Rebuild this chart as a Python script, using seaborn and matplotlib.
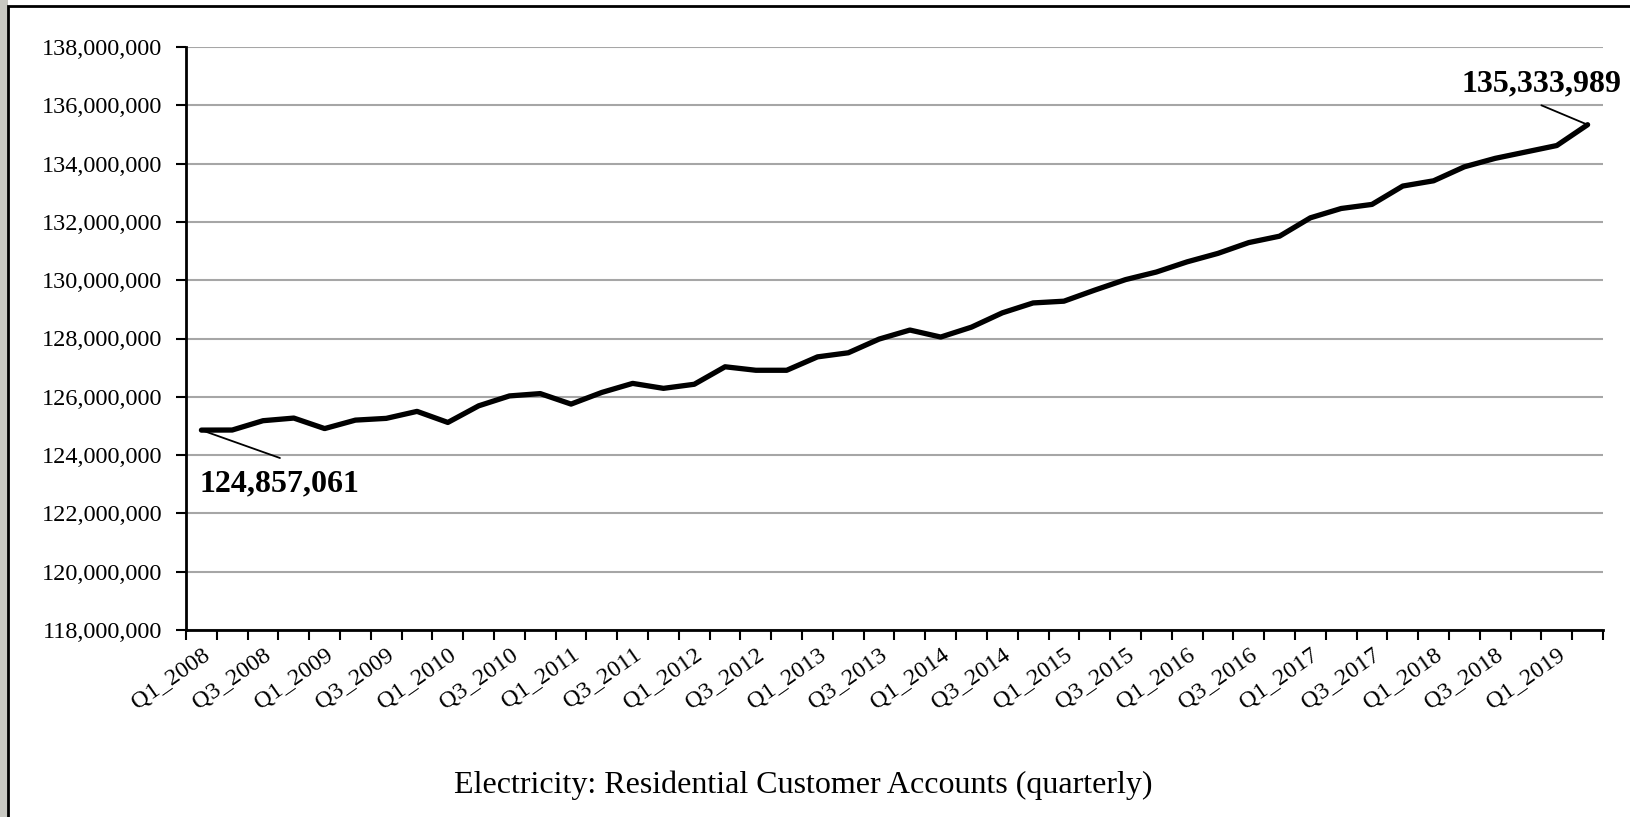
import matplotlib
matplotlib.use("Agg")
import matplotlib.pyplot as plt
import matplotlib.ticker as mticker
from matplotlib.patches import Rectangle
import seaborn as sns
import pandas as pd

# quarterly residential customer accounts, millions
quarters = [f"Q{q}_{y}" for y in range(2008, 2020) for q in range(1, 5)][:46]
accounts_m = [124.857061, 124.86, 125.18, 125.27, 124.91, 125.20, 125.26, 125.50,
              125.12, 125.69, 126.03, 126.11, 125.75, 126.15, 126.46, 126.29,
              126.43, 127.03, 126.91, 126.91, 127.37, 127.51, 127.98, 128.29,
              128.05, 128.39, 128.88, 129.22, 129.28, 129.66, 130.02, 130.28,
              130.63, 130.92, 131.29, 131.51, 132.14, 132.46, 132.60, 133.23,
              133.41, 133.89, 134.18, 134.40, 134.62, 135.333989]
first_label = "124,857,061"
last_label = "135,333,989"
title = "Electricity: Residential Customer Accounts (quarterly)"

df = pd.DataFrame({"idx": range(len(quarters)), "quarter": quarters,
                   "accounts": [v * 1e6 for v in accounts_m]})

sns.set_theme(style="white")
plt.rcParams["font.family"] = ["Liberation Serif", "DejaVu Serif"]
plt.rcParams["text.color"] = "black"
plt.rcParams["xtick.color"] = "black"
plt.rcParams["ytick.color"] = "black"

fig = plt.figure(figsize=(16.31, 8.17), dpi=100)
fig.patch.set_facecolor("white")
# grey strip on the left and the chart frame
fig.patches.append(Rectangle((0, 0), 8 / 1631, 1, transform=fig.transFigure,
                             facecolor="#c8c8c2", edgecolor="none", zorder=0))
fig.patches.append(Rectangle((8 / 1631, -0.05), 1.1, 1 - 6 / 817 + 0.05,
                             transform=fig.transFigure, facecolor="none",
                             edgecolor="black", lw=2, zorder=1))

ax = fig.add_axes([186 / 1631, 1 - 630 / 817, (1603 - 186) / 1631, (630 - 47) / 817])

sns.lineplot(data=df, x="idx", y="accounts", color="black", lw=3.8, ax=ax)

ax.set_xlim(-0.5, len(quarters) - 0.5)
ax.set_ylim(118e6, 138e6)
ax.yaxis.set_major_locator(mticker.MultipleLocator(2e6))
ax.yaxis.set_major_formatter(mticker.FuncFormatter(lambda v, p: f"{v:,.0f}"))
ax.grid(axis="y", color="#a6a6a6", lw=1.5)
ax.grid(axis="x", visible=False)

# ticks between categories, labels on every other category
ax.set_xticks([i - 0.5 for i in range(len(quarters) + 1)])
ax.set_xticklabels([])
ax.set_xticks(list(range(0, len(quarters), 2)), minor=True)
ax.set_xticklabels(quarters[::2], minor=True, rotation=35, ha="right",
                   rotation_mode="anchor", fontsize=17.5)
ax.tick_params(axis="x", which="major", length=7, width=1.5, color="black",
               direction="out", bottom=True)
ax.tick_params(axis="x", which="minor", length=0, pad=10)
ax.tick_params(axis="y", length=7, width=1.5, color="black", direction="out",
               left=True, labelsize=17.5, pad=10)

for side in ["top", "right"]:
    ax.spines[side].set_visible(False)
for side in ["left", "bottom"]:
    ax.spines[side].set_color("black")
    ax.spines[side].set_linewidth(2)

ax.set_xlabel("")
ax.set_ylabel("")

# end point callouts
x0, y0 = df["idx"].iloc[0], df["accounts"].iloc[0]
x1, y1 = df["idx"].iloc[-1], df["accounts"].iloc[-1]
ax.annotate("", xy=(x0, y0), xytext=(2.55, 123.9e6),
            arrowprops=dict(arrowstyle="-", lw=1.3, color="black",
                            shrinkA=0, shrinkB=0))
ax.text(2.52, 123.02e6, first_label, ha="center", va="center",
        fontsize=23, fontweight="bold")
ax.annotate("", xy=(x1, y1), xytext=(43.5, 136.0e6),
            arrowprops=dict(arrowstyle="-", lw=1.3, color="black",
                            shrinkA=0, shrinkB=0), annotation_clip=False)
ax.text(43.49, 136.73e6, last_label, ha="center", va="center",
        fontsize=23, fontweight="bold", clip_on=False)

fig.text(803 / 1631, 1 - 785 / 817, title, ha="center", va="center", fontsize=23)

fig.savefig("out.png", dpi=100)
